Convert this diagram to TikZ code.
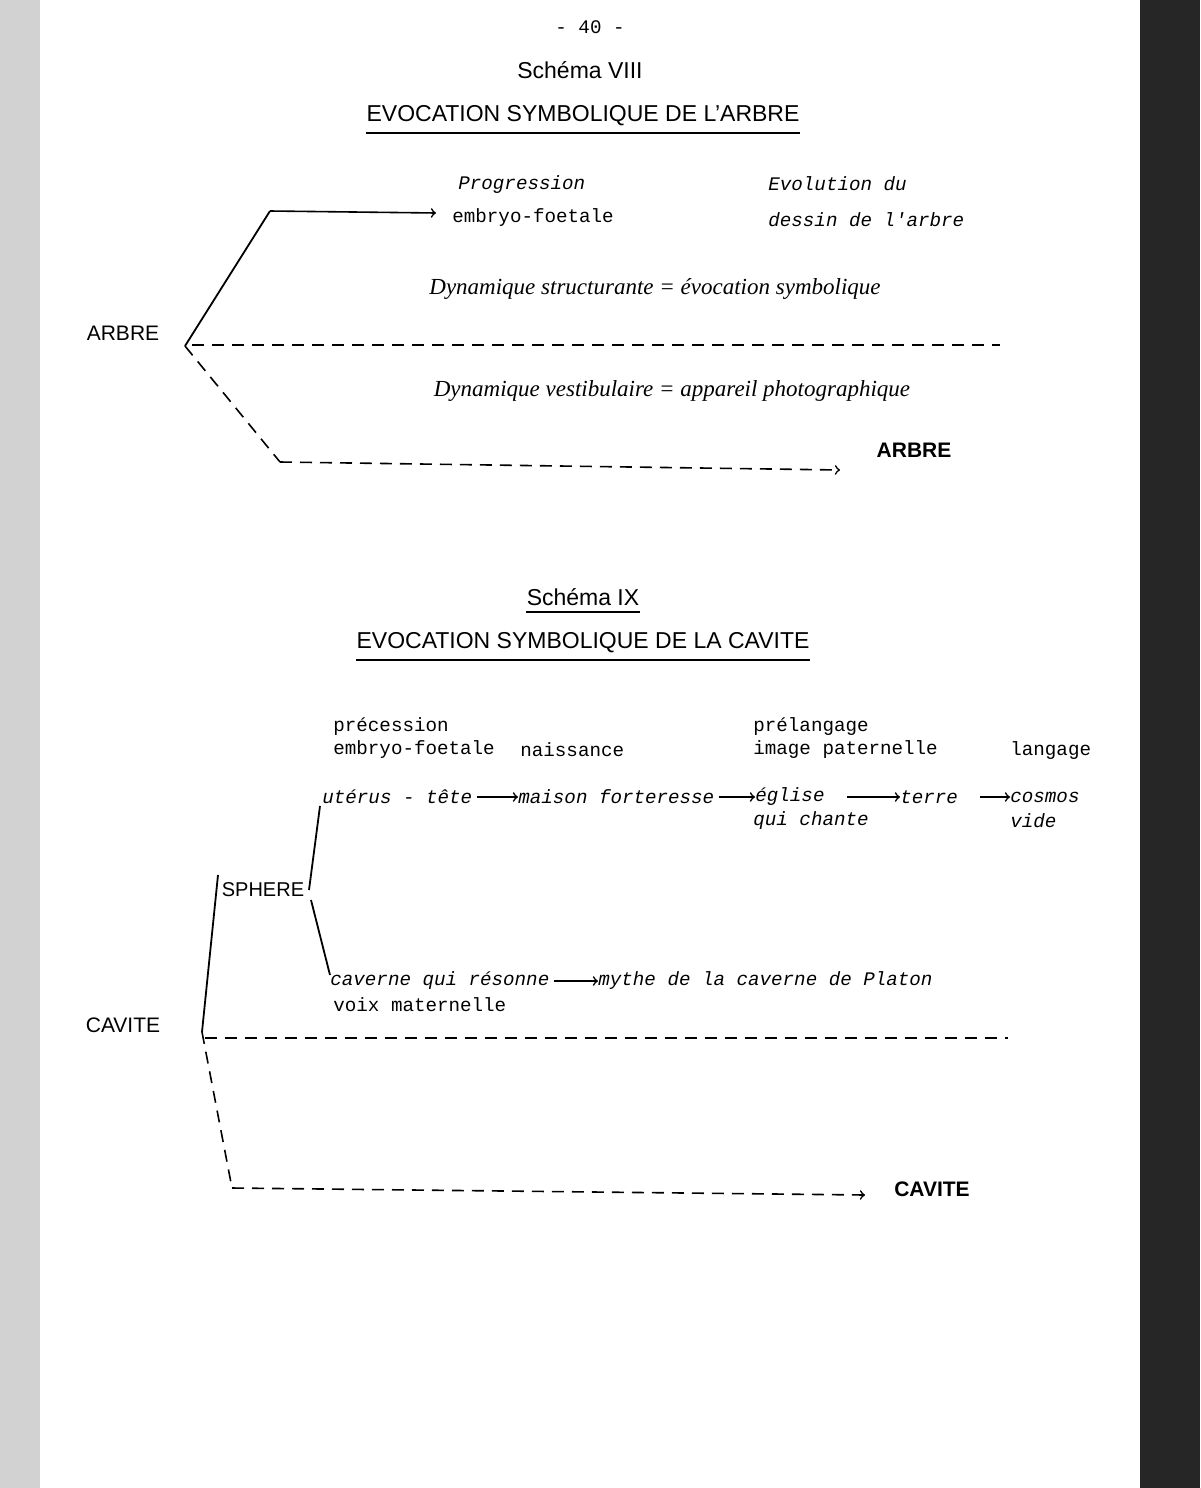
\documentclass[tikz,border=0pt]{standalone}
\usepackage{fontspec}
\setmainfont{Liberation Sans}
\newfontfamily\mono{Liberation Mono}
\newfontfamily\hand{Liberation Serif}
\begin{document}
\begin{tikzpicture}[x=0.5pt,y=-0.5pt,
  tw/.style={font=\mono\fontsize{9.6}{11}\selectfont,inner sep=0pt},
  twl/.style={tw,anchor=west},
  twi/.style={font=\mono\itshape\fontsize{9.6}{11}\selectfont,inner sep=0pt,anchor=west},
  hd/.style={font=\fontsize{11.5}{13}\selectfont,inner sep=0pt},
  sc/.style={font=\hand\itshape\fontsize{11.5}{13}\selectfont,inner sep=0pt},
  ln/.style={line width=0.9pt},
  dl/.style={line width=0.8pt,dash pattern=on 6pt off 4pt},
  ar/.style={line width=0.8pt,-{>[scale=2]}}]
\useasboundingbox (0,0) rectangle (1200,1488);
\fill[gray!35] (0,0) rectangle (40,1488);
\fill[black!85] (1140,0) rectangle (1200,1488);
% header
\node[tw] (pg) at (590,27) {- 40 -};
\node[hd] (s8) at (580,70) {Schéma VIII};
\node[hd] (t8) at (583,116) {EVOCATION SYMBOLIQUE DE L'ARBRE};
\draw[ln] (t8.south west)++(0,6) coordinate (u1) -- (t8.south east|-u1);
% schema VIII
\node[twi] (prog) at (458,185) {Progression};
\node[twi] (evo) at (768,184) {Evolution du};
\node[twl] (emb) at (452,218) {embryo-foetale};
\node[twi] (des) at (768,220) {dessin de l'arbre};
\node[font=\fontsize{10.5}{12}\selectfont,inner sep=0pt] (arbre) at (123,333) {ARBRE};
\coordinate (a0) at (185,346);
\coordinate (a1) at (270,211);
\coordinate (a2) at (436,213);
\draw[ln] (a0) -- (a1);
\draw[ar] (a1) -- (a2);
\node[sc] (dyn1) at (655,289) {Dynamique structurante = évocation symbolique};
\coordinate (d1) at (192,345); \coordinate (d2) at (1000,345);
\draw[dl] (d1) -- (d2);
\node[sc] (dyn2) at (672,391) {Dynamique vestibulaire = appareil photographique};
\node[font=\bfseries\fontsize{10.5}{12}\selectfont,inner sep=0pt] (arbre2) at (914,450) {ARBRE};
\coordinate (b1) at (280,462);
\coordinate (b2) at (840,470);
\draw[dl] (a0) -- (b1);
\draw[dl,-{>[scale=2]}] (b1) -- (b2);
% schema IX
\node[hd] (s9) at (583,597) {Schéma IX};
\draw[ln] (s9.south west)++(0,6) coordinate (u3) -- (s9.south east|-u3);
\node[hd] (t9) at (583,643) {EVOCATION SYMBOLIQUE DE LA CAVITE};
\draw[ln] (t9.south west)++(0,6) coordinate (u4) -- (t9.south east|-u4);
\node[twl] (prec) at (333,727) {précession};
\node[twl] (emb2) at (333,750) {embryo-foetale};
\node[twl] (nai) at (520,750) {naissance};
\node[twl] (prel) at (753,727) {prélangage};
\node[twl] (imp) at (753,750) {image paternelle};
\node[twl] (lang) at (1010,751) {langage};
\node[twi] (ut) at (322,797) {utérus - tête};
\node[twi] (mai) at (518,797) {maison forteresse};
\node[twi] (egl) at (755,797) {église};
\node[twi] (ter) at (900,797) {terre};
\node[twi] (cos) at (1010,797) {cosmos};
\node[twi] (qui) at (753,821) {qui chante};
\node[twi] (vid) at (1010,821) {vide};
\draw[ar] (ut.east)++(4,0) -- (mai.west);
\draw[ar] (mai.east)++(4,0) -- (egl.west);
\draw[ar] (egl.east)++(22,0) -- (ter.west);
\draw[ar] (ter.east)++(22,0) -- (cos.west);
\node[font=\fontsize{10}{12}\selectfont,inner sep=0pt] (sph) at (263,890) {SPHERE};
\coordinate (sp1) at (309,890); \coordinate (sp2) at (320,806);
\coordinate (sp3) at (311,900); \coordinate (sp4) at (330,975);
\draw[ln] (sp1) -- (sp2);
\draw[ln] (sp3) -- (sp4);
\node[twi] (cav) at (330,981) {caverne qui résonne};
\node[twi] (myt) at (598,981) {mythe de la caverne de Platon};
\node[twl] (voix) at (333,1005) {voix maternelle};
\draw[ar] (cav.east)++(4,0) -- (myt.west);
\node[font=\fontsize{10.5}{12}\selectfont,inner sep=0pt] (cavite) at (123,1025) {CAVITE};
\coordinate (c0) at (202,1032); \coordinate (c1) at (218,875);
\draw[ln] (c0) -- (c1);
\coordinate (e1) at (205,1038); \coordinate (e2) at (1008,1038);
\draw[dl] (e1) -- (e2);
\coordinate (f1) at (232,1188); \coordinate (f2) at (865,1195);
\draw[dl] (c0) -- (f1);
\draw[dl,-{>[scale=2]}] (f1) -- (f2);
\node[font=\bfseries\fontsize{10.5}{12}\selectfont,inner sep=0pt] (cav2) at (932,1189) {CAVITE};
\end{tikzpicture}
\end{document}
